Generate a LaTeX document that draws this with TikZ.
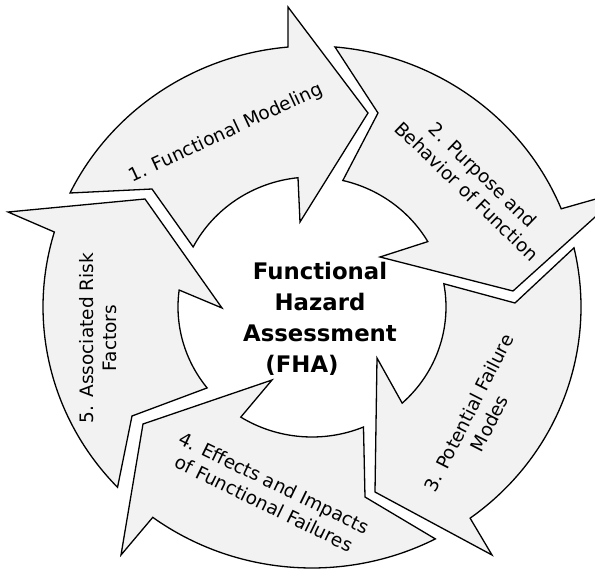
\documentclass[tikz,border=0pt]{standalone}
\usepackage{fontspec}
\setmainfont{DejaVu Sans}
\definecolor{arrowfill}{HTML}{F2F2F2}
\begin{document}
\begin{tikzpicture}[x=1pt, y=1pt, yscale=-1,
  cyc/.style={draw=black, fill=arrowfill, line width=1.3pt, line join=miter},
  lbl/.style={font=\fontsize{18.5}{23}\selectfont, align=center, inner sep=0pt},
  hub/.style={font=\bfseries\fontsize{22.8}{31}\selectfont, align=center, inner sep=0pt}]
\useasboundingbox (0,0) rectangle (595,570);
\clip (0,0) rectangle (595,570);

% five curved arrows around a common centre
\begin{scope}[shift={(312,307)}]
  % 1 -- top left
  \draw[cyc] (-154.1:269 and 261)
    arc[start angle=-154.1, end angle=-95.1, x radius=269, y radius=261]
    -- (-24,-300) -- (56,-194) -- (-12,-85) -- (-96.0:134 and 130)
    arc[start angle=-96.0, end angle=-152.5, x radius=134, y radius=130]
    -- (-160,-118) -- cycle;
  % 2 -- top right
  \draw[cyc] (-85.1:269 and 261)
    arc[start angle=-85.1, end angle=-22.1, x radius=269, y radius=261]
    -- (312,-116) -- (201,-16) -- (68,-50) -- (-30.2:134 and 130)
    arc[start angle=-30.2, end angle=-76.7, x radius=134, y radius=130]
    -- (66,-194) -- cycle;
  % 3 -- right
  \draw[cyc] (-13.1:269 and 261)
    arc[start angle=-13.1, end angle=54.0, x radius=269, y radius=261]
    -- (180,248) -- (63,185) -- (65,51) -- (47.7:134 and 130)
    arc[start angle=47.7, end angle=-10.3, x radius=134, y radius=130]
    -- (203,-4) -- cycle;
  % 4 -- bottom
  \draw[cyc] (62.7:269 and 261)
    arc[start angle=62.7, end angle=126.3, x radius=269, y radius=261]
    -- (-191,248) -- (-169,117) -- (-40,73) -- (122.1:134 and 130)
    arc[start angle=122.1, end angle=67.4, x radius=134, y radius=130]
    -- (53,190) -- cycle;
  % 5 -- left
  \draw[cyc] (136.3:269 and 261)
    arc[start angle=136.3, end angle=196.7, x radius=269, y radius=261]
    -- (-304,-95) -- (-167,-108) -- (-90,1) -- (187.5:134 and 130)
    arc[start angle=187.5, end angle=141.5, x radius=134, y radius=130]
    -- (-180,109) -- cycle;
\end{scope}

% step labels
\node[lbl, rotate=25]  (s1) at (226,133) {1. Functional Modeling};
\node[lbl, rotate=-44] (s2) at (475,183) {2. Purpose and\\Behavior of Function};
\node[lbl, rotate=63]  (s3) at (479,418) {3. Potential Failure\\Modes};
\node[lbl, rotate=-26] (s4) at (269,493) {4. Effects and Impacts\\of Functional Failures};
\node[lbl, rotate=90]  (s5) at (98,338)  {5. Associated Risk\\Factors};

% central title
\node[hub] (fha) at (320,318.5) {Functional\\Hazard\\Assessment\\(FHA)\hspace*{36pt}};
\end{tikzpicture}
\end{document}
